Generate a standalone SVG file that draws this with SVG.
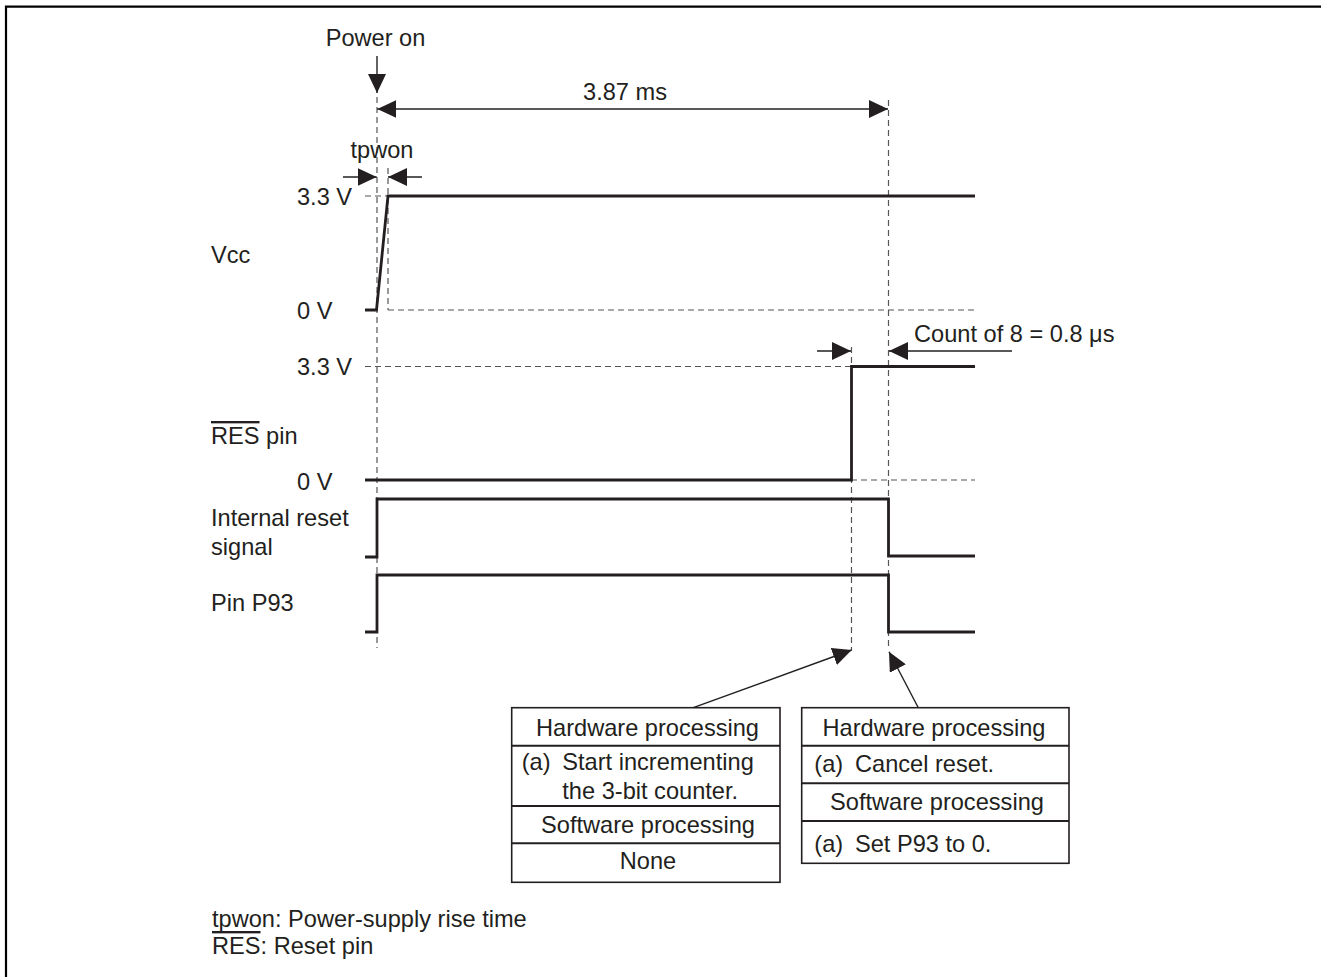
<svg xmlns="http://www.w3.org/2000/svg" width="1321" height="977" viewBox="0 0 1321 977">
<style>
  text { font-family: "Liberation Sans", Arial, sans-serif; font-size: 23.6px; fill: #231f20; }
  .mid { text-anchor: middle; }
  .sig { fill: none; stroke: #231f20; stroke-width: 2.8; stroke-linejoin: miter; }
  .dash { fill: none; stroke: #555; stroke-width: 1.2; stroke-dasharray: 6 4; }
  .arr { fill: none; stroke: #231f20; stroke-width: 1.4; }
  .box { fill: #fff; stroke: #231f20; stroke-width: 1.6; }
  .div { stroke: #231f20; stroke-width: 2; }
  .ov { text-decoration: overline; }
</style>
<defs>
  <marker id="ah" viewBox="0 0 19 18" refX="19" refY="9" markerWidth="19" markerHeight="18" markerUnits="userSpaceOnUse" orient="auto-start-reverse">
    <path d="M0,0 L19,9 L0,18 z" fill="#231f20"/>
  </marker>
</defs>
<rect width="1321" height="977" fill="#fff"/>
<path d="M6,977 V6.7 H1321" fill="none" stroke="#000" stroke-width="2.2"/>

<g id="guides">
  <line class="dash" x1="377" y1="97" x2="377" y2="648"/>
  <line class="dash" x1="388" y1="168" x2="388" y2="310"/>
  <line class="dash" x1="888.5" y1="100" x2="888.5" y2="650"/>
  <line class="dash" x1="851.5" y1="347" x2="851.5" y2="650"/>
  <line class="dash" x1="365" y1="196" x2="388" y2="196"/>
  <line class="dash" x1="388" y1="310" x2="975" y2="310"/>
  <line class="dash" x1="365" y1="366.5" x2="851" y2="366.5"/>
  <line class="dash" x1="851" y1="480" x2="975" y2="480"/>
</g>

<g id="vcc">
  <text x="211" y="263">Vcc</text>
  <text x="297" y="205">3.3 V</text>
  <text x="297" y="319">0 V</text>
  <path class="sig" d="M365,310 H376.5 L388,196 H975"/>
</g>

<g id="res">
  <text x="211" y="444"><tspan class="ov">RES</tspan> pin</text>
  <text x="297" y="375">3.3 V</text>
  <text x="297" y="489.5">0 V</text>
  <path class="sig" d="M365,480 H851.5 V366.5 H975"/>
</g>

<g id="internal-reset">
  <text x="211" y="526">Internal reset</text>
  <text x="211" y="555">signal</text>
  <path class="sig" d="M365,557 H377 V499 H888.5 V556 H975"/>
</g>

<g id="p93">
  <text x="211" y="611">Pin P93</text>
  <path class="sig" d="M365,632 H377 V575 H888.5 V632 H975"/>
</g>

<g id="annotations">
  <text class="mid" x="375.5" y="46">Power on</text>
  <text class="mid" x="625" y="100">3.87 ms</text>
  <text class="mid" x="382" y="158">tpwon</text>
  <text x="914" y="342">Count of 8 = 0.8 μs</text>
</g>

<g id="box-hw1">
  <rect class="box" x="511.7" y="707.7" width="268.3" height="174.6"/>
  <line class="div" x1="511.7" y1="745.7" x2="780" y2="745.7"/>
  <line class="div" x1="511.7" y1="806" x2="780" y2="806"/>
  <line class="div" x1="511.7" y1="843.3" x2="780" y2="843.3"/>
  <text class="mid" x="647.5" y="736">Hardware processing</text>
  <text x="521.7" y="769.5">(a)</text>
  <text x="562.3" y="769.5">Start incrementing</text>
  <text x="562.3" y="799.3">the 3-bit counter.</text>
  <text class="mid" x="648" y="832.7">Software processing</text>
  <text class="mid" x="648" y="869.3">None</text>
</g>

<g id="box-hw2">
  <rect class="box" x="801.7" y="707.7" width="267.3" height="155.6"/>
  <line class="div" x1="801.7" y1="745.7" x2="1069" y2="745.7"/>
  <line class="div" x1="801.7" y1="783.3" x2="1069" y2="783.3"/>
  <line class="div" x1="801.7" y1="821" x2="1069" y2="821"/>
  <text class="mid" x="934" y="736">Hardware processing</text>
  <text x="814.3" y="771.5">(a)</text>
  <text x="855" y="771.5">Cancel reset.</text>
  <text class="mid" x="937" y="810">Software processing</text>
  <text x="814.3" y="851.7">(a)</text>
  <text x="855" y="851.7">Set P93 to 0.</text>
</g>

<g id="connectors">
  <line class="arr" x1="377" y1="56" x2="377" y2="93" marker-end="url(#ah)"/>
  <line class="arr" x1="377.3" y1="109" x2="888" y2="109" marker-start="url(#ah)" marker-end="url(#ah)"/>
  <line class="arr" x1="343" y1="177" x2="376.7" y2="177" marker-end="url(#ah)"/>
  <line class="arr" x1="422" y1="177" x2="388" y2="177" marker-end="url(#ah)"/>
  <line class="arr" x1="817" y1="351" x2="851" y2="351" marker-end="url(#ah)"/>
  <line class="arr" x1="1012" y1="351" x2="889" y2="351" marker-end="url(#ah)"/>
  <line class="arr" x1="693.3" y1="707.7" x2="851.7" y2="650" marker-end="url(#ah)"/>
  <line class="arr" x1="918.3" y1="707.7" x2="889" y2="651.7" marker-end="url(#ah)"/>
</g>

<g id="legend">
  <text x="212" y="927">tpwon: Power-supply rise time</text>
  <text x="212" y="954"><tspan class="ov">RES</tspan>: Reset pin</text>
</g>
</svg>
